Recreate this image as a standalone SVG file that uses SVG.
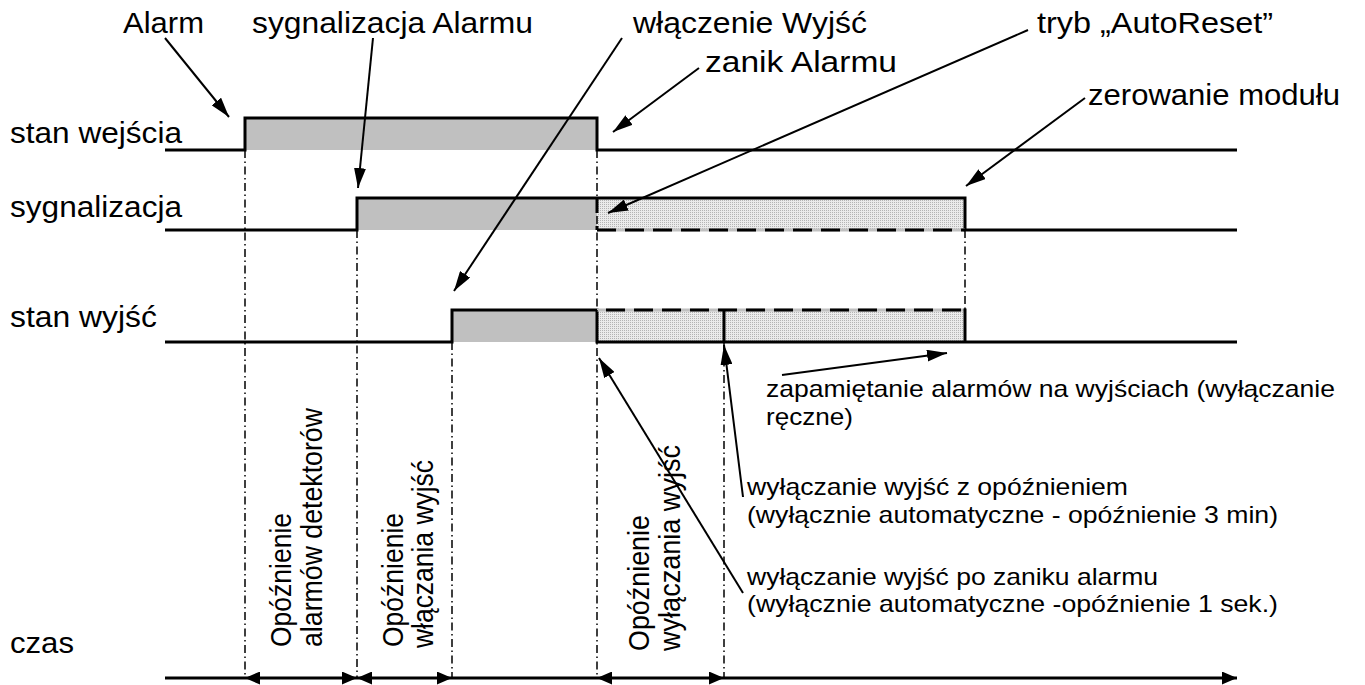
<svg xmlns="http://www.w3.org/2000/svg" width="1365" height="685" viewBox="0 0 1365 685">
<style>
text{font-family:"Liberation Sans",Arial,sans-serif;fill:#000}
.lbl{font-size:29px}
.sm{font-size:24px}
.rot{font-size:29px}
.sig{fill:none;stroke:#000;stroke-width:3;stroke-linejoin:miter}
.dd{fill:none;stroke:#000;stroke-width:1.5;stroke-dasharray:8 3.5 1.5 3.5}
.ann{fill:none;stroke:#000;stroke-width:2;marker-end:url(#ah)}
.gray{fill:#c0c0c0}
.hatch{fill:url(#hp)}
.dash{fill:none;stroke:#000;stroke-width:3;stroke-dasharray:19 9}
.under{fill:none;stroke:#c0c0c0;stroke-width:3}
</style>
<defs>
<pattern id="hp" width="2" height="2" patternUnits="userSpaceOnUse">
<rect width="2" height="2" fill="#ebebeb"/>
<rect width="1" height="1" fill="#b4b4b4"/>
</pattern>
<marker id="ah" viewBox="0 0 20 12" refX="20" refY="6" markerWidth="20" markerHeight="12" markerUnits="userSpaceOnUse" orient="auto">
<path d="M0,0 L20,6 L0,12 z" fill="#000"/>
</marker>
<marker id="ax" viewBox="0 0 15 13" refX="15" refY="6.5" markerWidth="15" markerHeight="13" markerUnits="userSpaceOnUse" orient="auto-start-reverse">
<path d="M0,0 L15,6.5 L0,13 z" fill="#000"/>
</marker>
</defs>

<g id="signal-stan-wejscia">
<rect class="gray" x="245" y="118" width="352" height="32"/>
<polyline class="sig" points="165,150 245,150 245,118 597,118 597,150 1237,150"/>
</g>

<g id="signal-sygnalizacja">
<rect class="gray" x="357" y="198" width="240" height="32"/>
<rect class="hatch" x="597" y="198" width="368" height="32"/>
<polyline class="sig" points="165,230 357,230 357,198 965,198 965,230 1237,230"/>
<line class="under" x1="597" y1="230" x2="965" y2="230"/>
<line class="dash" x1="597" y1="230" x2="965" y2="230"/>
<line class="dash" x1="597" y1="198" x2="597" y2="230" style="stroke-dasharray:15 13"/>
</g>

<g id="signal-stan-wyjsc">
<rect class="gray" x="452" y="310" width="145" height="32"/>
<rect class="hatch" x="597" y="310" width="368" height="32"/>
<polyline class="sig" points="165,342 452,342 452,310 597,310 597,342 1237,342"/>
<line class="under" x1="597" y1="310" x2="965" y2="310"/>
<line class="dash" x1="606" y1="310" x2="965" y2="310"/>
<line class="sig" x1="724" y1="310" x2="724" y2="342"/>
<line class="sig" x1="965" y1="308.5" x2="965" y2="342"/>
</g>

<g id="guides">
<line class="dd" x1="245" y1="150" x2="245" y2="678"/>
<line class="dd" x1="357" y1="230" x2="357" y2="678"/>
<line class="dd" x1="452" y1="342" x2="452" y2="678"/>
<line class="dd" x1="597" y1="150" x2="597" y2="678"/>
<line class="dd" x1="724" y1="342" x2="724" y2="678"/>
<line class="dd" x1="965" y1="230" x2="965" y2="310"/>
</g>

<g id="time-axis">
<line x1="165" y1="678" x2="245" y2="678" stroke="#000" stroke-width="3"/>
<line x1="245" y1="678" x2="357" y2="678" stroke="#000" stroke-width="3" marker-start="url(#ax)" marker-end="url(#ax)"/>
<line x1="357" y1="678" x2="452" y2="678" stroke="#000" stroke-width="3" marker-start="url(#ax)" marker-end="url(#ax)"/>
<line x1="452" y1="678" x2="597" y2="678" stroke="#000" stroke-width="3"/>
<line x1="597" y1="678" x2="724" y2="678" stroke="#000" stroke-width="3" marker-start="url(#ax)" marker-end="url(#ax)"/>
<line x1="724" y1="678" x2="1237" y2="678" stroke="#000" stroke-width="3" marker-end="url(#ax)"/>
</g>

<g id="connectors">
<line class="ann" x1="165" y1="38" x2="229" y2="117"/>
<line class="ann" x1="373" y1="38" x2="358" y2="188"/>
<line class="ann" x1="622" y1="38" x2="454" y2="291"/>
<line class="ann" x1="699" y1="68" x2="613" y2="132"/>
<line class="ann" x1="1028" y1="30" x2="608" y2="213"/>
<line class="ann" x1="1085" y1="98" x2="966" y2="186"/>
<line class="ann" x1="782" y1="375" x2="947" y2="353"/>
<line class="ann" x1="743" y1="497" x2="724" y2="345"/>
<line class="ann" x1="743" y1="593" x2="599" y2="358"/>
</g>

<g id="row-labels">
<text class="lbl" x="10" y="143" textLength="172" lengthAdjust="spacingAndGlyphs">stan wejścia</text>
<text class="lbl" x="10" y="217" textLength="172" lengthAdjust="spacingAndGlyphs">sygnalizacja</text>
<text class="lbl" x="10" y="327" textLength="147" lengthAdjust="spacingAndGlyphs">stan wyjść</text>
<text class="lbl" x="10" y="653" textLength="64" lengthAdjust="spacingAndGlyphs">czas</text>
</g>

<g id="event-labels">
<text class="lbl" x="123" y="33" textLength="81" lengthAdjust="spacingAndGlyphs">Alarm</text>
<text class="lbl" x="252" y="33" textLength="281" lengthAdjust="spacingAndGlyphs">sygnalizacja Alarmu</text>
<text class="lbl" x="633" y="33" textLength="234" lengthAdjust="spacingAndGlyphs">włączenie Wyjść</text>
<text class="lbl" x="705" y="72" textLength="192" lengthAdjust="spacingAndGlyphs">zanik Alarmu</text>
<text class="lbl" x="1037" y="33" textLength="236" lengthAdjust="spacingAndGlyphs">tryb „AutoReset”</text>
<text class="lbl" x="1088" y="105" textLength="252" lengthAdjust="spacingAndGlyphs">zerowanie modułu</text>
</g>

<g id="notes">
<text class="sm" x="766" y="397" textLength="569" lengthAdjust="spacingAndGlyphs">zapamiętanie alarmów na wyjściach (wyłączanie</text>
<text class="sm" x="766" y="425" textLength="87" lengthAdjust="spacingAndGlyphs">ręczne)</text>
<text class="sm" x="747" y="495" textLength="381" lengthAdjust="spacingAndGlyphs">wyłączanie wyjść z opóźnieniem</text>
<text class="sm" x="747" y="523" textLength="531" lengthAdjust="spacingAndGlyphs">(wyłącznie automatyczne - opóźnienie 3 min)</text>
<text class="sm" x="747" y="585" textLength="411" lengthAdjust="spacingAndGlyphs">wyłączanie wyjść po zaniku alarmu</text>
<text class="sm" x="747" y="612" textLength="531" lengthAdjust="spacingAndGlyphs">(wyłącznie automatyczne -opóźnienie 1 sek.)</text>
</g>

<g id="interval-labels">
<text class="rot" transform="translate(291,647) rotate(-90)" textLength="134" lengthAdjust="spacingAndGlyphs">Opóźnienie</text>
<text class="rot" transform="translate(322,647) rotate(-90)" textLength="239" lengthAdjust="spacingAndGlyphs">alarmów detektorów</text>
<text class="rot" transform="translate(403,647) rotate(-90)" textLength="134" lengthAdjust="spacingAndGlyphs">Opóźnienie</text>
<text class="rot" transform="translate(433,648) rotate(-90)" textLength="188" lengthAdjust="spacingAndGlyphs">włączania wyjść</text>
<text class="rot" transform="translate(649,651) rotate(-90)" textLength="136" lengthAdjust="spacingAndGlyphs">Opóźnienie</text>
<text class="rot" transform="translate(680,651) rotate(-90)" textLength="206" lengthAdjust="spacingAndGlyphs">wyłączania wyjść</text>
</g>
</svg>
